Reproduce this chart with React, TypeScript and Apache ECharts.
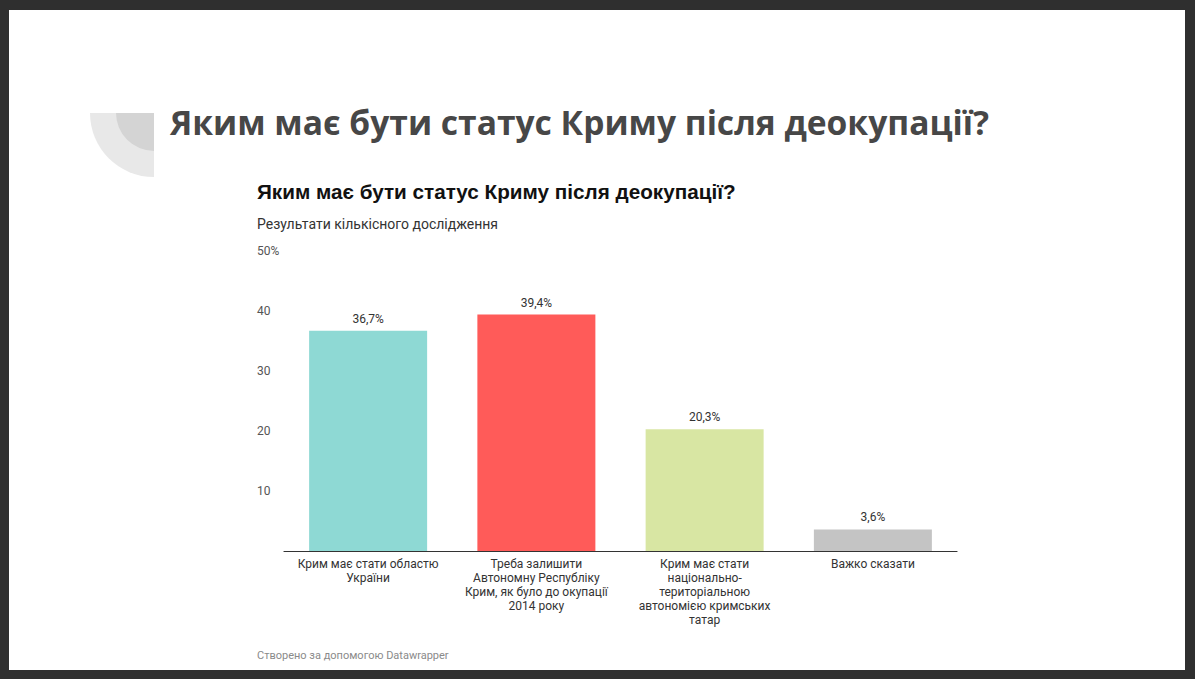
import { useEffect, useRef } from "react";
import * as echarts from "echarts";

const categories = [
  "Крим має стати областю\nУкраїни",
  "Треба залишити\nАвтономну Республіку\nКрим, як було до окупації\n2014 року",
  "Крим має стати\nнаціонально-\nтериторіальною\nавтономією кримських\nтатар",
  "Важко сказати",
];
const values = [36.7, 39.4, 20.3, 3.6];
const barColors = ["#8ed9d4", "#ff5b59", "#d8e6a3", "#c4c4c4"];
const yTicks = [0, 10, 20, 30, 40, 50];

const slideTitle = "Яким має бути статус Криму після деокупації?";
const chartTitle = "Яким має бути статус Криму після деокупації?";
const chartSubtitle = "Результати кількісного дослідження";
const footer = "Створено за допомогою Datawrapper";

export default function App() {
  const chartRef = useRef<HTMLDivElement>(null);

  useEffect(() => {
    if (!chartRef.current) return;
    const chart = echarts.init(chartRef.current, null, { renderer: "svg" });

    const option = {
      animation: false,
      backgroundColor: "#2f2f2f",
      title: [
        {
          text: chartTitle,
          left: 257,
          top: 181,
          padding: 0,
          textStyle: {
            fontFamily: "Liberation Sans",
            fontSize: 20.7,
            fontWeight: "bold",
            color: "#111",
          },
        },
        {
          text: chartSubtitle,
          left: 257,
          top: 217,
          padding: 0,
          textStyle: {
            fontFamily: "Roboto",
            fontSize: 14,
            fontWeight: "normal",
            color: "#333",
          },
        },
      ],
      graphic: [
        {
          type: "rect",
          shape: { x: 9, y: 10, width: 1176, height: 660 },
          style: { fill: "#ffffff" },
          z: -10,
        },
        {
          type: "sector",
          shape: { cx: 154, cy: 113, r: 64, startAngle: Math.PI / 2, endAngle: Math.PI },
          style: { fill: "#e8e8e8" },
        },
        {
          type: "sector",
          shape: { cx: 154, cy: 113, r: 38, startAngle: Math.PI / 2, endAngle: Math.PI },
          style: { fill: "#d4d4d4" },
        },
        {
          type: "text",
          x: 170,
          y: 122,
          style: {
            text: slideTitle,
            fill: "#474747",
            font: "bold 33.6px 'Open Sans'",
            textVerticalAlign: "middle",
          },
        },
        {
          type: "text",
          x: 257,
          y: 655,
          style: {
            text: footer,
            fill: "#8a8a8a",
            font: "11px Roboto",
            textVerticalAlign: "middle",
          },
        },
      ],
      grid: { left: 284, top: 251, width: 673, height: 300 },
      xAxis: {
        type: "category",
        data: categories,
        axisLine: { show: true, lineStyle: { color: "#333", width: 1.2 } },
        axisTick: { show: false },
        axisLabel: {
          interval: 0,
          margin: 6,
          fontFamily: "Roboto",
          fontSize: 12,
          lineHeight: 14,
          color: "#333",
          verticalAlign: "top",
        },
      },
      yAxis: {
        type: "value",
        min: yTicks[0],
        max: yTicks[yTicks.length - 1],
        interval: 10,
        axisLine: { show: false },
        axisTick: { show: false },
        splitLine: { show: false },
        axisLabel: {
          align: "left",
          margin: 27,
          fontFamily: "Roboto",
          fontSize: 12,
          color: "#555",
          showMinLabel: false,
          formatter: (v: number) => (v === 50 ? "50%" : String(v)),
        },
      },
      series: [
        {
          type: "bar",
          barWidth: 118,
          data: values.map((v, i) => ({ value: v, itemStyle: { color: barColors[i] } })),
          label: {
            show: true,
            position: "top",
            distance: 6,
            fontFamily: "Roboto",
            fontSize: 12,
            color: "#333",
            formatter: (p: any) => String(p.value).replace(".", ",") + "%",
          },
        },
      ],
    };

    chart.setOption(option);
    return () => chart.dispose();
  }, []);

  return (
    <div
      ref={chartRef}
      style={{ position: "fixed", left: 0, top: 0, width: 1195, height: 679 }}
    />
  );
}
